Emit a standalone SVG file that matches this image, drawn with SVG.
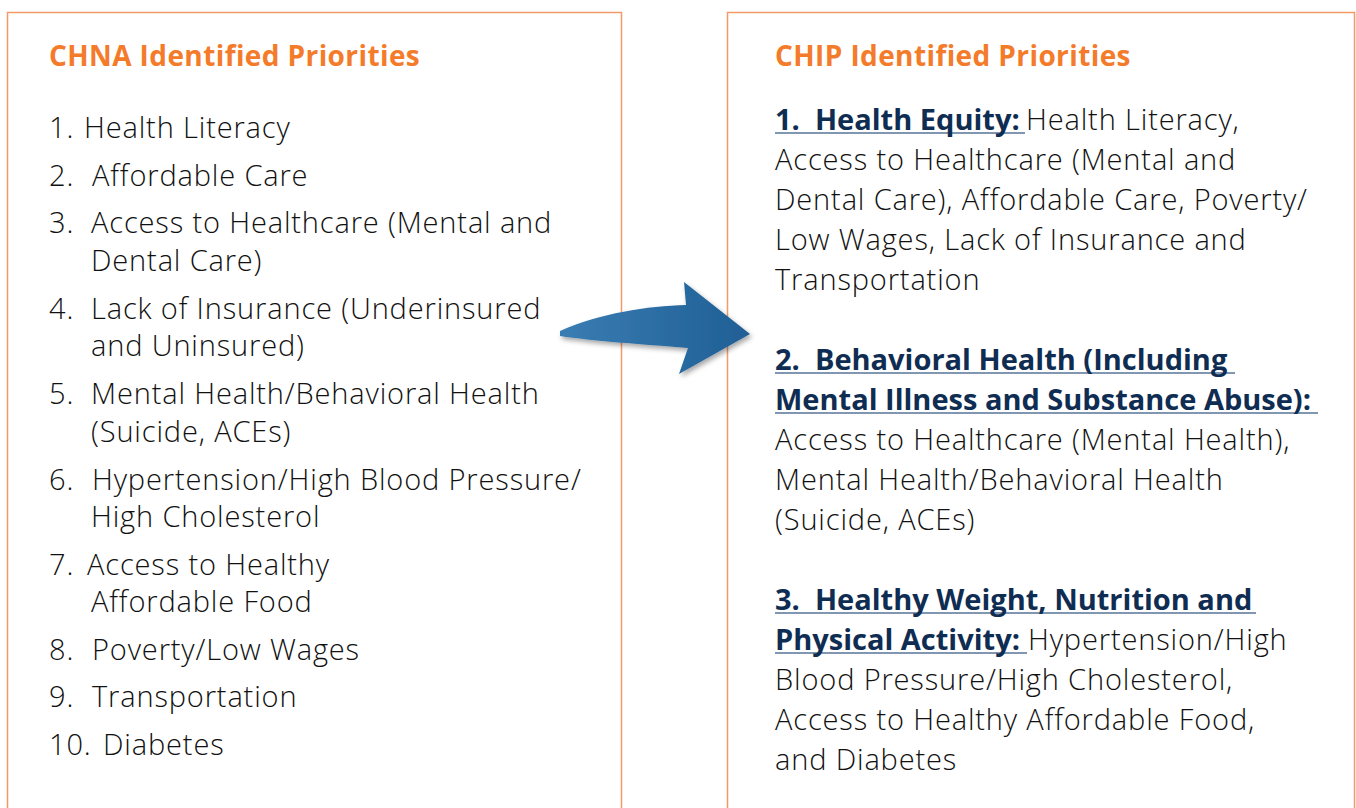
<svg xmlns="http://www.w3.org/2000/svg" width="1356" height="808" viewBox="0 0 1356 808">
<style>
.box{fill:#fff;stroke:#f29b68;stroke-width:1.5}
.hd{font-family:"Open Sans","Liberation Sans",sans-serif;font-weight:700;font-size:28px;letter-spacing:0.4px;fill:#f47b2a}
.t{font-family:"Open Sans","Liberation Sans",sans-serif;font-weight:300;font-size:29px;letter-spacing:0.85px;fill:#111}
.b{font-family:"Open Sans","Liberation Sans",sans-serif;font-weight:700;font-size:29px;fill:#0f2d52}
.ul{stroke:#8197b1;stroke-width:2}
</style>
<defs>
<linearGradient id="ag" x1="0" y1="0" x2="1" y2="0">
<stop offset="0" stop-color="#3a7db3"/>
<stop offset="1" stop-color="#1f5f95"/>
</linearGradient>
<filter id="sh" x="-20%" y="-20%" width="140%" height="150%">
<feDropShadow dx="2" dy="3" stdDeviation="2.5" flood-color="#000" flood-opacity="0.35"/>
</filter>
</defs>
<rect width="1356" height="808" fill="#fff"/>
<g id="chna">
<rect class="box" x="7.5" y="12.5" width="614" height="820"/>
<text class="hd" x="49" y="66">CHNA Identified Priorities</text>
<text class="t"><tspan x="49" y="138">1.</tspan><tspan x="84" y="138">Health Literacy</tspan></text>
<text class="t"><tspan x="49" y="186">2.</tspan><tspan x="92" y="186">Affordable Care</tspan></text>
<text class="t"><tspan x="49" y="233">3.</tspan><tspan x="91" y="233">Access to Healthcare (Mental and</tspan><tspan x="91" y="271">Dental Care)</tspan></text>
<text class="t"><tspan x="49" y="319">4.</tspan><tspan x="91" y="319">Lack of Insurance (Underinsured</tspan><tspan x="91" y="356">and Uninsured)</tspan></text>
<text class="t"><tspan x="49" y="404">5.</tspan><tspan x="91" y="404">Mental Health/Behavioral Health</tspan><tspan x="91" y="442">(Suicide, ACEs)</tspan></text>
<text class="t"><tspan x="49" y="490">6.</tspan><tspan x="92" y="490">Hypertension/High Blood Pressure/</tspan><tspan x="91" y="527">High Cholesterol</tspan></text>
<text class="t"><tspan x="49" y="575">7.</tspan><tspan x="87" y="575">Access to Healthy</tspan><tspan x="91" y="612">Affordable Food</tspan></text>
<text class="t"><tspan x="49" y="660">8.</tspan><tspan x="92" y="660">Poverty/Low Wages</tspan></text>
<text class="t"><tspan x="49" y="707">9.</tspan><tspan x="92" y="707">Transportation</tspan></text>
<text class="t"><tspan x="49" y="755">10.</tspan><tspan x="103" y="755">Diabetes</tspan></text>
</g>
<g id="chip">
<rect class="box" x="727.5" y="12.5" width="627" height="820"/>
<text class="hd" x="775" y="66">CHIP Identified Priorities</text>
<line class="ul" x1="775" y1="133" x2="1025" y2="133"/>
<text class="b" x="775" y="130">1.&#160; Health Equity:</text>
<text class="t"><tspan x="1026" y="130">Health Literacy,</tspan><tspan x="775" y="170">Access to Healthcare (Mental and</tspan><tspan x="775" y="210">Dental Care), Affordable Care, Poverty/</tspan><tspan x="775" y="250">Low Wages, Lack of Insurance and</tspan><tspan x="775" y="290">Transportation</tspan></text>
<line class="ul" x1="775" y1="373" x2="1235" y2="373"/>
<line class="ul" x1="775" y1="413" x2="1318" y2="413"/>
<text class="b"><tspan x="775" y="370">2.&#160; Behavioral Health (Including</tspan><tspan x="775" y="410">Mental Illness and Substance Abuse):</tspan></text>
<text class="t"><tspan x="775" y="450">Access to Healthcare (Mental Health),</tspan><tspan x="775" y="490">Mental Health/Behavioral Health</tspan><tspan x="775" y="530">(Suicide, ACEs)</tspan></text>
<line class="ul" x1="775" y1="613" x2="1256" y2="613"/>
<line class="ul" x1="775" y1="653" x2="1027" y2="653"/>
<text class="b"><tspan x="775" y="610">3.&#160; Healthy Weight, Nutrition and</tspan><tspan x="775" y="650">Physical Activity:</tspan></text>
<text class="t"><tspan x="1028" y="650">Hypertension/High</tspan><tspan x="775" y="690">Blood Pressure/High Cholesterol,</tspan><tspan x="775" y="730">Access to Healthy Affordable Food,</tspan><tspan x="775" y="770">and Diabetes</tspan></text>
</g>
<g id="connectors">
<path d="M560,331 C600,313 648,306 686,305 L684,282 L750,334 L679,374 L688,348 C640,344 592,341 560,336 Z" fill="url(#ag)" filter="url(#sh)"/>
</g>
</svg>
